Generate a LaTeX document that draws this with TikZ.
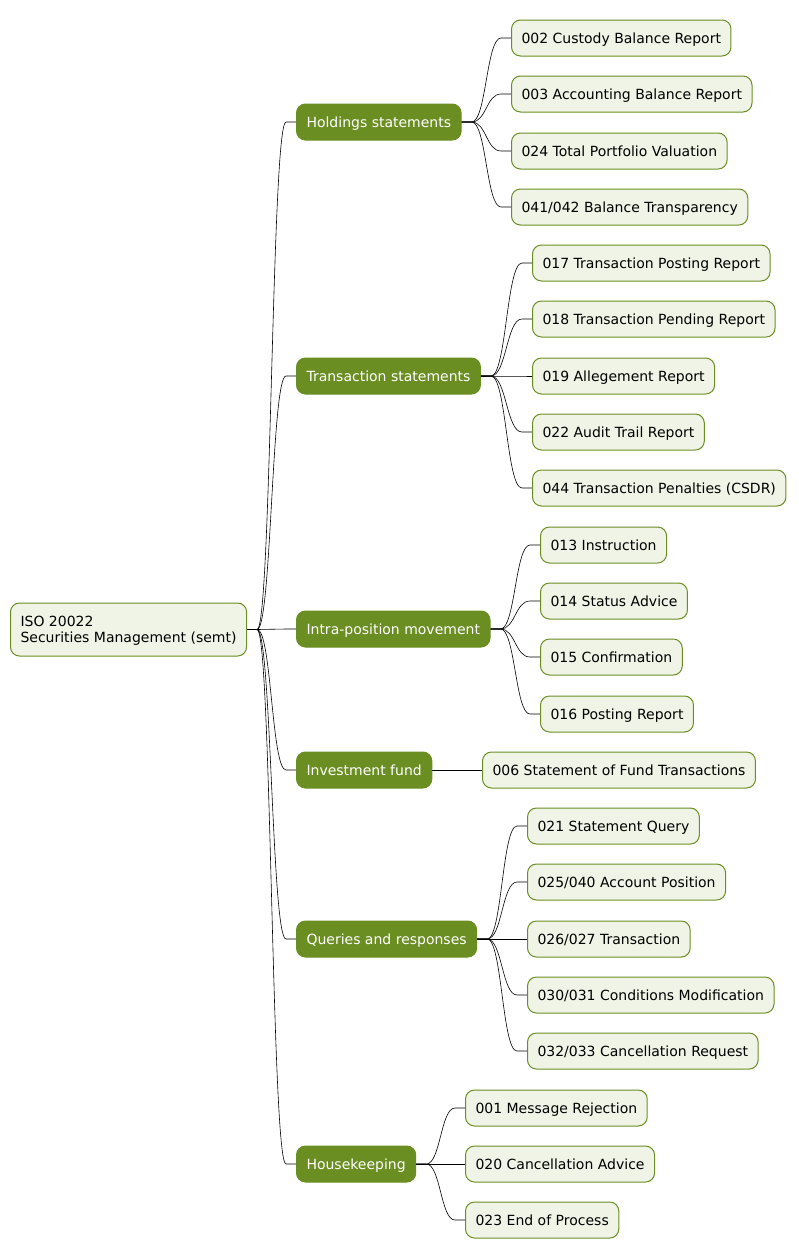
\documentclass[tikz,border=0pt]{standalone}
\usepackage{fontspec}
\setmainfont{DejaVu Sans}
\usetikzlibrary{calc}
\definecolor{olive}{HTML}{6B8E23}
\definecolor{lightolive}{HTML}{F0F4E6}
\tikzset{
  base/.style={rounded corners=9pt, line width=1pt, inner xsep=10pt, inner ysep=4pt,
    minimum height=36pt, anchor=west, text height=13.5pt, text depth=3.3pt,
    font=\fontsize{14pt}{16.5pt}\selectfont},
  rootbox/.style={base, draw=olive, fill=lightolive, align=left, minimum height=53pt, text height=30pt},
  catbox/.style={base, draw=olive, fill=olive, text=white},
  leafbox/.style={base, draw=olive, fill=lightolive},
  conn/.style={draw=black, line width=0.6pt}
}
\newcommand\linknodes[2]{%
  \draw[conn] let \p1=(#1.east), \p2=(#2.west) in
    (\p1) -- (\x1+10pt,\y1) .. controls ({(\x1+\x2)/2},\y1) and ({(\x1+\x2)/2},\y2) .. (\x2-10pt,\y2) -- (\p2);}
\begin{document}
\begin{tikzpicture}[x=1pt,y=-1pt]
\useasboundingbox (0,0) rectangle (799,1259);
\node[rootbox] (root) at (10,629.5) {ISO 20022\\Securities Management (semt)};

\node[catbox] (hold) at (296,122) {Holdings statements};
\node[catbox] (trans) at (296,376) {Transaction statements};
\node[catbox] (intra) at (296,629) {Intra-position movement};
\node[catbox] (inv) at (296,770) {Investment fund};
\node[catbox] (query) at (296,939) {Queries and responses};
\node[catbox] (house) at (296,1164) {Housekeeping};

\node[leafbox] (h1) at (511,38) {002 Custody Balance Report};
\node[leafbox] (h2) at (511,94) {003 Accounting Balance Report};
\node[leafbox] (h3) at (511,151) {024 Total Portfolio Valuation};
\node[leafbox] (h4) at (511,207) {041/042 Balance Transparency};

\node[leafbox] (t1) at (532,263) {017 Transaction Posting Report};
\node[leafbox] (t2) at (532,319) {018 Transaction Pending Report};
\node[leafbox] (t3) at (532,376) {019 Allegement Report};
\node[leafbox] (t4) at (532,432) {022 Audit Trail Report};
\node[leafbox] (t5) at (532,488) {044 Transaction Penalties (CSDR)};

\node[leafbox] (i1) at (540,545) {013 Instruction};
\node[leafbox] (i2) at (540,601) {014 Status Advice};
\node[leafbox] (i3) at (540,657) {015 Confirmation};
\node[leafbox] (i4) at (540,714) {016 Posting Report};

\node[leafbox] (f1) at (482,770) {006 Statement of Fund Transactions};

\node[leafbox] (q1) at (527,826) {021 Statement Query};
\node[leafbox] (q2) at (527,882) {025/040 Account Position};
\node[leafbox] (q3) at (527,939) {026/027 Transaction};
\node[leafbox] (q4) at (527,995) {030/031 Conditions Modification};
\node[leafbox] (q5) at (527,1051) {032/033 Cancellation Request};

\node[leafbox] (k1) at (465,1108) {001 Message Rejection};
\node[leafbox] (k2) at (465,1164) {020 Cancellation Advice};
\node[leafbox] (k3) at (465,1220) {023 End of Process};

\foreach \c in {hold,trans,intra,inv,query,house} {\linknodes{root}{\c}}
\foreach \c in {h1,h2,h3,h4} {\linknodes{hold}{\c}}
\foreach \c in {t1,t2,t3,t4,t5} {\linknodes{trans}{\c}}
\foreach \c in {i1,i2,i3,i4} {\linknodes{intra}{\c}}
\linknodes{inv}{f1}
\foreach \c in {q1,q2,q3,q4,q5} {\linknodes{query}{\c}}
\foreach \c in {k1,k2,k3} {\linknodes{house}{\c}}
\end{tikzpicture}
\end{document}
